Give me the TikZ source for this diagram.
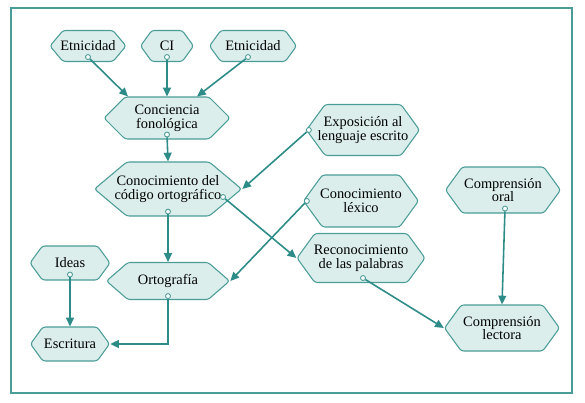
\documentclass[tikz,border=0pt]{standalone}
\usepackage{fontspec}
\setmainfont{Liberation Serif}
\usetikzlibrary{shapes.symbols,arrows.meta}
\definecolor{tealln}{HTML}{2E8C88}
\definecolor{tealbd}{HTML}{4A9C97}
\definecolor{tealfill}{HTML}{DCEEEC}
\begin{document}
\begin{tikzpicture}[every node/.style={font=\fontsize{8.2}{7.8}\selectfont},
  hex/.style={draw=tealbd, line width=0.6pt, fill=tealfill, signal, signal to=east and west, signal pointer angle=108, rounded corners=1.5pt, inner xsep=-12pt, inner ysep=1pt, align=center},
  port/.style={circle, draw=tealbd, fill=white, line width=0.5pt, inner sep=0pt, minimum size=0.1cm},
  arr/.style={-{Triangle[length=5pt,width=4.5pt]}, line width=0.9pt, tealln}]
\useasboundingbox (0,0) rectangle (11.7,8.04);
\draw[tealbd, line width=0.7pt] (0.22,0.18) rectangle (11.44,7.88);
% factores
\node[hex, signal pointer angle=100, minimum width=1.52cm, minimum height=0.62cm] (et1) at (1.76,7.12) {Etnicidad};
\node[hex, minimum width=1.06cm, minimum height=0.62cm] (ci) at (3.34,7.12) {CI};
\node[hex, minimum width=1.74cm, minimum height=0.62cm] (et2) at (5.06,7.12) {Etnicidad};
\node[hex, signal pointer angle=90, minimum width=2.52cm, minimum height=0.84cm] (fon) at (3.34,5.68) {Conciencia\\fonológica};
\node[hex, signal pointer angle=80, minimum width=2.94cm, minimum height=1.08cm] (cod) at (3.36,4.26) {Conocimiento del\\código ortográfico};
\node[hex, minimum width=2.26cm, minimum height=1.02cm] (expo) at (7.26,5.44) {Exposición al\\lenguaje escrito};
\node[hex, minimum width=2.3cm, minimum height=1.04cm] (lex) at (7.22,4.02) {Conocimiento\\léxico};
\node[hex, minimum width=2.56cm, minimum height=0.98cm] (rec) at (7.22,2.88) {Reconocimiento\\de las palabras};
\node[hex, minimum width=2.3cm, minimum height=0.92cm] (oral) at (10.06,4.24) {Comprensión\\oral};
\node[hex, minimum width=2.3cm, minimum height=0.92cm] (lect) at (10.04,1.48) {Comprensión\\lectora};
\node[hex, minimum width=1.6cm, minimum height=0.68cm] (ideas) at (1.40,2.78) {Ideas};
\node[hex, signal pointer angle=82, minimum width=2.46cm, minimum height=0.74cm] (orto) at (3.36,2.42) {Ortografía};
\node[hex, minimum width=1.58cm, minimum height=0.68cm] (escr) at (1.40,1.16) {Escritura};
% salidas
\node[port] (et1p) at ([yshift=0.1cm]et1.south) {};
\node[port] (cip) at ([yshift=0.1cm]ci.south) {};
\node[port] (et2p) at ([xshift=-0.1cm,yshift=0.1cm]et2.south) {};
\node[port] (fonp) at ([yshift=0.1cm]fon.south) {};
\node[port] (codp) at ([yshift=0.1cm]cod.south) {};
\node[port] (codq) at ([xshift=1.1cm,yshift=-0.16cm]cod.center) {};
\node[port] (expop) at ([xshift=0.06cm]expo.west) {};
\node[port] (lexp) at ([xshift=0.08cm]lex.west) {};
\node[port] (recp) at ([xshift=0.04cm,yshift=0.1cm]rec.south) {};
\node[port] (oralp) at ([xshift=0.04cm,yshift=0.1cm]oral.south) {};
\node[port] (ideasp) at ([yshift=0.12cm]ideas.south) {};
\node[port] (ortop) at ([yshift=0.08cm]orto.south) {};
% flechas
\draw[arr] (et1p) -- ([xshift=-0.78cm]fon.north);
\draw[arr] (cip) -- (fon.north);
\draw[arr] (et2p) -- ([xshift=0.6cm]fon.north);
\draw[arr] (fonp) -- (cod.north);
\draw[arr] (expop) -- (cod.east);
\draw[arr] (codq) -- (rec.west);
\draw[arr] (codp) -- (orto.north);
\draw[arr] (lexp) -- (orto.east);
\draw[arr] (ideasp) -- (escr.north);
\draw[arr] (ortop) |- (escr.east);
\draw[arr] (recp) -- (lect.west);
\draw[arr] (oralp) -- (lect.north);
\end{tikzpicture}
\end{document}
